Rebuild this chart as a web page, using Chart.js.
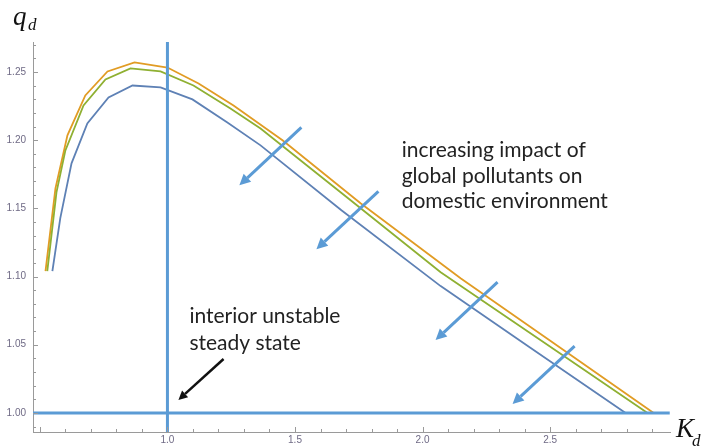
<!DOCTYPE html>
<html>
<head>
<meta charset="utf-8">
<script src="https://cdn.jsdelivr.net/npm/chart.js@4"></script>
<style>
  html, body { margin: 0; padding: 0; background: #fff; }
  #wrap { width: 707px; height: 448px; }
</style>
</head>
<body>
<div id="wrap"><canvas id="qdChart" width="707" height="448"></canvas></div>
<script>
// Curves: capital stock K_d vs. q_d
const orangeK = [0.522, 0.561, 0.608, 0.678, 0.765, 0.871, 1.000, 1.122, 1.259, 1.451, 1.757, 2.149, 2.502, 2.906];
const orangeQ = [1.104, 1.1647, 1.2035, 1.2328, 1.2504, 1.2570, 1.2533, 1.2416, 1.2255, 1.1999, 1.1537, 1.0988, 1.0527, 1.0];

const greenK = [0.529, 0.565, 0.600, 0.671, 0.757, 0.855, 0.973, 1.102, 1.247, 1.365, 1.718, 2.071, 2.482, 2.882];
const greenQ = [1.104, 1.1618, 1.1925, 1.2255, 1.2445, 1.2526, 1.2504, 1.2401, 1.2233, 1.2086, 1.1559, 1.1032, 1.0509, 1.0];

const blueK = [0.549, 0.580, 0.624, 0.686, 0.769, 0.863, 0.973, 1.098, 1.235, 1.365, 1.682, 2.071, 2.424, 2.796];
const blueQ = [1.104, 1.1428, 1.1830, 1.2123, 1.2313, 1.2401, 1.2387, 1.2299, 1.2130, 1.1962, 1.1486, 1.093, 1.0476, 1.0];

// steady state lines
const steadyK = [1.0, 1.0];
const steadyQ = [0.986, 1.273];
const baseK = [0.473, 2.969];
const baseQ = [1.0, 1.0];

// axis ranges and tick labels
const xRange = [0.473, 2.97];
const yRange = [0.986, 1.272];
const xTicks = [1.0, 1.5, 2.0, 2.5];
const yTicks = [1.00, 1.05, 1.10, 1.15, 1.20, 1.25];

// shift arrows (from -> to), in data units
const shiftFromK = [1.525, 1.827, 2.294, 2.596];
const shiftFromQ = [1.2094, 1.1625, 1.0959, 1.0490];
const shiftToK = [1.282, 1.584, 2.051, 2.353];
const shiftToQ = [1.1669, 1.1201, 1.0534, 1.0066];

const noteLines = ['increasing impact of', 'global pollutants on', 'domestic environment'];
const stateLines = ['interior unstable', 'steady state'];

const tickFont = { family: '"Liberation Sans", Arial, sans-serif', size: 10 };
const tickColor = '#6f6a85';
const axisColor = '#9a9a9a';
const lightBlue = '#5B9BD5';

function toPoints(ks, qs) {
  return ks.map((k, i) => ({ x: k, y: qs[i] }));
}

function drawArrow(ctx, x1, y1, x2, y2, color, width, headLen, headHalf) {
  const ang = Math.atan2(y2 - y1, x2 - x1);
  const bx = x2 - headLen * Math.cos(ang);
  const by = y2 - headLen * Math.sin(ang);
  ctx.save();
  ctx.strokeStyle = color;
  ctx.fillStyle = color;
  ctx.lineWidth = width;
  ctx.lineCap = 'butt';
  ctx.beginPath();
  ctx.moveTo(x1, y1);
  ctx.lineTo(bx, by);
  ctx.stroke();
  ctx.beginPath();
  ctx.moveTo(x2, y2);
  ctx.lineTo(bx + headHalf * Math.sin(ang), by - headHalf * Math.cos(ang));
  ctx.lineTo(bx - headHalf * Math.sin(ang), by + headHalf * Math.cos(ang));
  ctx.closePath();
  ctx.fill();
  ctx.restore();
}

// inward tick marks, axis titles, arrows and notes
const annotatePlugin = {
  id: 'annotate',
  afterDraw(chart) {
    const ctx = chart.ctx;
    const xs = chart.scales.x;
    const ys = chart.scales.y;
    const area = chart.chartArea;

    ctx.save();
    ctx.strokeStyle = axisColor;
    ctx.lineWidth = 1;
    ctx.beginPath();
    for (let v = 0.5; v <= 2.95; v += 0.1) {
      const px = Math.round(xs.getPixelForValue(v)) + 0.5;
      const major = Math.abs(v * 2 - Math.round(v * 2)) < 1e-6;
      ctx.moveTo(px, area.bottom);
      ctx.lineTo(px, area.bottom - (major ? 5 : 3));
    }
    for (let v = 0.99; v <= 1.2705; v += 0.01) {
      const py = Math.round(ys.getPixelForValue(v)) + 0.5;
      const major = Math.abs(v * 20 - Math.round(v * 20)) < 1e-6;
      ctx.moveTo(area.left, py);
      ctx.lineTo(area.left + (major ? 5 : 3), py);
    }
    ctx.stroke();
    ctx.restore();

    // shift arrows
    for (let i = 0; i < shiftFromK.length; i++) {
      drawArrow(ctx,
        xs.getPixelForValue(shiftFromK[i]), ys.getPixelForValue(shiftFromQ[i]),
        xs.getPixelForValue(shiftToK[i]), ys.getPixelForValue(shiftToQ[i]),
        lightBlue, 3, 11, 5.5);
    }
    // pointer to the interior steady state
    drawArrow(ctx,
      xs.getPixelForValue(1.22), ys.getPixelForValue(1.0395),
      xs.getPixelForValue(1.043), ys.getPixelForValue(1.0095),
      '#111', 2.5, 9, 4.5);

    ctx.save();
    ctx.fillStyle = '#222';
    ctx.font = '21px Lato, "Open Sans", sans-serif';
    ctx.textBaseline = 'alphabetic';
    let nx = xs.getPixelForValue(1.918);
    let ny = ys.getPixelForValue(1.1874);
    noteLines.forEach((t, i) => ctx.fillText(t, nx, ny + i * 25.5));
    nx = xs.getPixelForValue(1.086);
    ny = ys.getPixelForValue(1.0659);
    stateLines.forEach((t, i) => ctx.fillText(t, nx, ny + i * 27));

    // axis titles q_d and K_d
    ctx.fillStyle = '#111';
    ctx.font = 'italic 27px "Liberation Serif", "DejaVu Serif", serif';
    ctx.fillText('q', 13, 25);
    ctx.fillText('K', 676, 437);
    ctx.font = 'italic 17px "Liberation Serif", "DejaVu Serif", serif';
    ctx.fillText('d', 28, 30);
    ctx.fillText('d', 692, 446);
    ctx.restore();
  }
};

new Chart(document.getElementById('qdChart'), {
  type: 'scatter',
  data: {
    datasets: [
      {
        data: toPoints(steadyK, steadyQ),
        showLine: true, borderColor: lightBlue, borderWidth: 3,
        pointRadius: 0, order: 0
      },
      {
        data: toPoints(baseK, baseQ),
        showLine: true, borderColor: lightBlue, borderWidth: 3,
        pointRadius: 0, order: 0
      },
      {
        data: toPoints(blueK, blueQ),
        showLine: true, borderColor: '#5E81B5', borderWidth: 1.8,
        pointRadius: 0, order: 1
      },
      {
        data: toPoints(greenK, greenQ),
        showLine: true, borderColor: '#8FB032', borderWidth: 1.8,
        pointRadius: 0, order: 2
      },
      {
        data: toPoints(orangeK, orangeQ),
        showLine: true, borderColor: '#E19C24', borderWidth: 1.8,
        pointRadius: 0, order: 3
      }
    ]
  },
  options: {
    responsive: false,
    animation: false,
    layout: { padding: { top: 42, right: 37, left: 0, bottom: 0 } },
    plugins: {
      legend: { display: false },
      tooltip: { enabled: false }
    },
    scales: {
      x: {
        type: 'linear',
        min: xRange[0],
        max: xRange[1],
        afterBuildTicks: s => { s.ticks = xTicks.map(v => ({ value: v })); },
        afterFit: s => { s.height = 16; },
        grid: { display: false, drawTicks: false },
        border: { display: true, color: axisColor, width: 1 },
        ticks: {
          font: tickFont, color: tickColor, padding: 2,
          maxRotation: 0, autoSkip: false,
          callback: v => v.toFixed(1)
        }
      },
      y: {
        type: 'linear',
        min: yRange[0],
        max: yRange[1],
        afterBuildTicks: s => { s.ticks = yTicks.map(v => ({ value: v })); },
        afterFit: s => { s.width = 33; },
        grid: { display: false, drawTicks: false },
        border: { display: true, color: axisColor, width: 1 },
        ticks: {
          font: tickFont, color: tickColor, padding: 7,
          autoSkip: false,
          callback: v => v.toFixed(2)
        }
      }
    }
  },
  plugins: [annotatePlugin]
});
</script>
</body>
</html>
